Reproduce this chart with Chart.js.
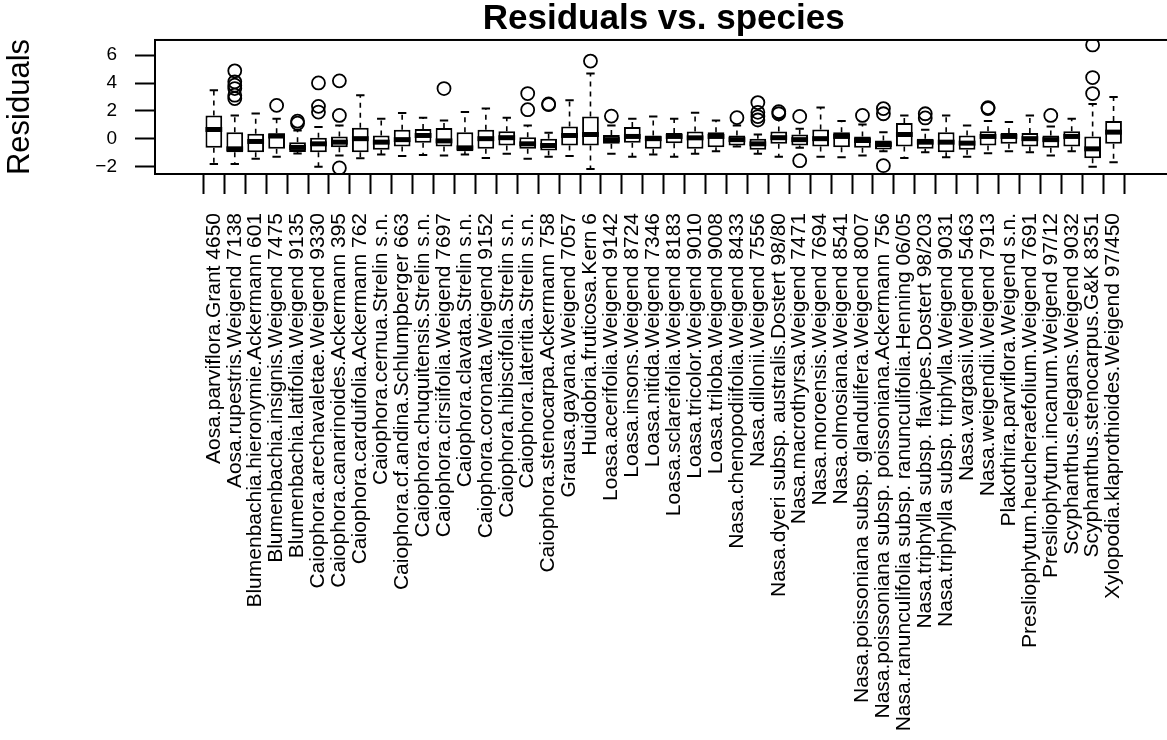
<!DOCTYPE html>
<html>
<head>
<meta charset="utf-8">
<script src="https://cdn.jsdelivr.net/npm/chart.js@4.4.1/dist/chart.umd.min.js"></script>
<style>
  html, body { margin: 0; padding: 0; background: #fff; overflow: hidden; }
  #wrap { width: 1200px; height: 740px; }
</style>
</head>
<body>
<div id="wrap"><canvas id="resid" width="1200" height="740"></canvas></div>
<script>
const species = [
  'Aosa.parviflora.Grant 4650',
  'Aosa.rupestris.Weigend 7138',
  'Blumenbachia.hieronymie.Ackermann 601',
  'Blumenbachia.insignis.Weigend 7475',
  'Blumenbachia.latifolia.Weigend 9135',
  'Caiophora.arechavaletae.Weigend 9330',
  'Caiophora.canarinoides.Ackermann 395',
  'Caiophora.carduifolia.Ackermann 762',
  'Caiophora.cernua.Strelin s.n.',
  'Caiophora.cf.andina.Schlumpberger 663',
  'Caiophora.chuquitensis.Strelin s.n.',
  'Caiophora.cirsiifolia.Weigend 7697',
  'Caiophora.clavata.Strelin s.n.',
  'Caiophora.coronata.Weigend 9152',
  'Caiophora.hibiscifolia.Strelin s.n.',
  'Caiophora.lateritia.Strelin s.n.',
  'Caiophora.stenocarpa.Ackermann 758',
  'Grausa.gayana.Weigend 7057',
  'Huidobria.fruticosa.Kern 6',
  'Loasa.acerifolia.Weigend 9142',
  'Loasa.insons.Weigend 8724',
  'Loasa.nitida.Weigend 7346',
  'Loasa.sclareifolia.Weigend 8183',
  'Loasa.tricolor.Weigend 9010',
  'Loasa.triloba.Weigend 9008',
  'Nasa.chenopodiifolia.Weigend 8433',
  'Nasa.dillonii.Weigend 7556',
  'Nasa.dyeri subsp. australis.Dostert 98/80',
  'Nasa.macrothyrsa.Weigend 7471',
  'Nasa.moroensis.Weigend 7694',
  'Nasa.olmosiana.Weigend 8541',
  'Nasa.poissoniana subsp. glandulifera.Weigend 8007',
  'Nasa.poissoniana subsp. poissoniana.Ackermann 756',
  'Nasa.ranunculifolia subsp. ranunculifolia.Henning 06/05',
  'Nasa.triphylla subsp. flavipes.Dostert 98/203',
  'Nasa.triphylla subsp. triphylla.Weigend 9031',
  'Nasa.vargasii.Weigend 5463',
  'Nasa.weigendii.Weigend 7913',
  'Plakothira.parviflora.Weigend s.n.',
  'Presliophytum.heucheraefolium.Weigend 7691',
  'Presliophytum.incanum.Weigend 97/12',
  'Scyphanthus.elegans.Weigend 9032',
  'Scyphanthus.stenocarpus.G&K 8351',
  'Xylopodia.klaprothioides.Weigend 97/450'
];

// five-number summaries per species
const lowerWhisker = [-1.81, -1.81, -1.44, -1.28, -1.05, -2.00, -1.20, -1.39, -1.13, -1.23, -1.16,
  -1.20, -1.13, -1.37, -1.08, -1.44, -1.28, -1.23, -2.17, -1.08, -1.28, -1.13, -1.28, -1.08,
  -0.89, -0.55, -1.08, -1.28, -0.65, -1.28, -1.32, -1.20, -0.89, -1.37, -0.97, -1.32, -1.28,
  -1.04, -0.89, -0.97, -1.20, -0.89, -2.00, -1.68];
const lowerQuartile = [-0.65, -0.97, -0.97, -0.72, -0.95, -0.97, -0.60, -0.97, -0.79, -0.55, -0.29,
  -0.55, -0.89, -0.72, -0.48, -0.72, -0.84, -0.48, -0.48, -0.36, -0.29, -0.72, -0.31, -0.72,
  -0.60, -0.48, -0.79, -0.36, -0.48, -0.55, -0.60, -0.65, -0.77, -0.55, -0.72, -0.97, -0.79,
  -0.48, -0.36, -0.55, -0.65, -0.55, -1.40, -0.36];
const medians = [0.67, -0.72, -0.19, 0.20, -0.62, -0.36, -0.24, 0.01, -0.24, -0.06, 0.24,
  -0.15, -0.65, 0.01, 0.08, -0.36, -0.48, 0.24, 0.31, -0.06, 0.17, 0.01, 0.17, 0.07,
  0.17, -0.06, -0.36, 0.08, -0.06, 0.01, 0.17, -0.12, -0.41, 0.31, -0.24, -0.24, -0.31,
  0.17, 0.17, 0.01, -0.06, 0.17, -0.72, 0.48];
const upperQuartile = [1.68, 0.48, 0.36, 0.40, -0.25, 0.07, 0.17, 0.79, 0.24, 0.65, 0.70,
  0.77, 0.48, 0.65, 0.55, 0.12, 0.01, 0.89, 1.61, 0.27, 0.84, 0.24, 0.41, 0.53,
  0.48, 0.24, 0.01, 0.53, 0.31, 0.67, 0.48, 0.17, -0.12, 1.13, 0.01, 0.48, 0.24,
  0.55, 0.41, 0.41, 0.24, 0.55, 0.17, 1.27];
const upperWhisker = [3.49, 1.68, 1.81, 1.44, 0.60, 0.84, 0.96, 3.13, 1.44, 1.85, 1.52,
  1.32, 1.92, 2.17, 1.52, 0.96, 0.43, 2.77, 4.69, 0.96, 1.44, 1.61, 1.44, 1.87,
  1.32, 0.96, 0.31, 1.44, 0.72, 2.24, 1.27, 1.03, 0.48, 1.68, 0.65, 1.68, 0.96,
  1.27, 1.20, 1.68, 0.89, 1.44, 2.50, 3.01];

// [species index, residual] for points beyond the whiskers
const outliers = [
  [1, 4.88], [1, 4.09], [1, 3.85], [1, 3.61], [1, 3.13], [1, 2.89],
  [3, 2.40], [4, 1.27], [4, 1.12],
  [5, 4.01], [5, 2.33], [5, 1.92],
  [6, 4.16], [6, 1.68], [6, -2.09],
  [11, 3.61], [15, 3.25], [15, 2.09], [16, 2.50], [16, 2.45],
  [18, 5.58], [19, 1.63], [25, 1.52],
  [26, 2.60], [26, 1.90], [26, 1.60], [26, 1.35],
  [27, 1.95], [27, 1.80], [28, 1.61], [28, -1.57], [31, 1.68],
  [32, 2.17], [32, 1.80], [32, -1.93], [34, 1.80], [34, 1.50],
  [37, 2.24], [37, 2.17], [40, 1.68],
  [42, 6.74], [42, 4.40], [42, 3.25]
];

const yTicks = [-2, 0, 2, 4, 6];

const FONT = '"Liberation Sans", Arial, Helvetica, sans-serif';

// axis limits padded by 4% like base graphics
const allValues = lowerWhisker.concat(upperWhisker, outliers.map(o => o[1]));
const dataMin = Math.min(...allValues);
const dataMax = Math.max(...allValues);
const yPad = (dataMax - dataMin) * 0.04;
const xPad = 0.5 + species.length * 0.04;

// whiskers, staples, medians and the plot frame
const boxParts = {
  id: 'boxParts',
  afterDatasetDraw(chart, args) {
    if (args.index !== 0) return;
    const { ctx, scales: { x, y } } = chart;
    const bars = chart.getDatasetMeta(0).data;
    ctx.save();
    ctx.strokeStyle = '#000';
    species.forEach((_, i) => {
      const cx = x.getPixelForValue(i);
      const half = bars[i].width / 2;
      const cap = half / 2;

      ctx.lineWidth = 1.6;
      ctx.setLineDash([5, 5]);
      ctx.beginPath();
      ctx.moveTo(cx, y.getPixelForValue(upperQuartile[i]));
      ctx.lineTo(cx, y.getPixelForValue(upperWhisker[i]));
      ctx.moveTo(cx, y.getPixelForValue(lowerQuartile[i]));
      ctx.lineTo(cx, y.getPixelForValue(lowerWhisker[i]));
      ctx.stroke();
      ctx.setLineDash([]);

      ctx.lineWidth = 2;
      ctx.beginPath();
      [lowerWhisker[i], upperWhisker[i]].forEach(v => {
        const py = y.getPixelForValue(v);
        ctx.moveTo(cx - cap, py);
        ctx.lineTo(cx + cap, py);
      });
      ctx.stroke();

      ctx.lineWidth = 5;
      const my = y.getPixelForValue(medians[i]);
      ctx.beginPath();
      ctx.moveTo(cx - half, my);
      ctx.lineTo(cx + half, my);
      ctx.stroke();
    });
    const a = chart.chartArea;
    ctx.lineWidth = 2;
    ctx.strokeRect(a.left, a.top, a.right - a.left, a.bottom - a.top);
    ctx.restore();
  }
};

new Chart(document.getElementById('resid'), {
  type: 'bar',
  data: {
    datasets: [{
      type: 'bar',
      data: species.map((_, i) => ({ x: i, y: [lowerQuartile[i], upperQuartile[i]] })),
      backgroundColor: '#fff',
      borderColor: '#000',
      borderWidth: 2,
      borderSkipped: false,
      categoryPercentage: 0.8,
      barPercentage: 1,
      order: 2
    }, {
      type: 'scatter',
      data: outliers.map(([i, v]) => ({ x: i, y: v })),
      pointStyle: 'circle',
      pointRadius: 6.5,
      pointBorderWidth: 1.8,
      pointBorderColor: '#000',
      pointBackgroundColor: 'rgba(0,0,0,0)',
      order: 1
    }]
  },
  options: {
    responsive: false,
    animation: false,
    devicePixelRatio: 1,
    layout: { padding: { left: 0, right: 27.6, top: 0, bottom: 0 } },
    plugins: {
      legend: { display: false },
      tooltip: { enabled: false },
      title: {
        display: true,
        text: 'Residuals vs. species',
        color: '#000',
        fullSize: false,
        font: { family: FONT, size: 35, weight: 'bold', lineHeight: 1.085 },
        padding: { top: 0, bottom: 2 }
      }
    },
    scales: {
      x: {
        type: 'linear',
        min: -xPad,
        max: species.length - 1 + xPad,
        afterBuildTicks: s => { s.ticks = species.map((_, i) => ({ value: i })); },
        afterFit: s => { s.height = 566; },
        border: { display: true, color: '#000', width: 2 },
        grid: { drawOnChartArea: false, tickLength: 20, tickColor: '#000', tickWidth: 2 },
        ticks: {
          autoSkip: false,
          minRotation: 90,
          maxRotation: 90,
          padding: 19,
          color: '#000',
          font: { family: FONT, size: 21 },
          callback: v => species[v]
        }
      },
      y: {
        min: dataMin - yPad,
        max: dataMax + yPad,
        afterBuildTicks: s => { s.ticks = yTicks.map(v => ({ value: v })); },
        afterFit: s => { s.width = 155; },
        border: { display: true, color: '#000', width: 2 },
        grid: { drawOnChartArea: false, tickLength: 20, tickColor: '#000', tickWidth: 2 },
        ticks: {
          padding: 18,
          color: '#000',
          font: { family: FONT, size: 19 },
          callback: v => v < 0 ? '\u2212' + (-v) : String(v)
        },
        title: {
          display: true,
          text: 'Residuals',
          color: '#000',
          font: { family: FONT, size: 31, lineHeight: 1.2 },
          padding: { top: 2, bottom: 0 }
        }
      }
    }
  },
  plugins: [boxParts]
});
</script>
</body>
</html>
